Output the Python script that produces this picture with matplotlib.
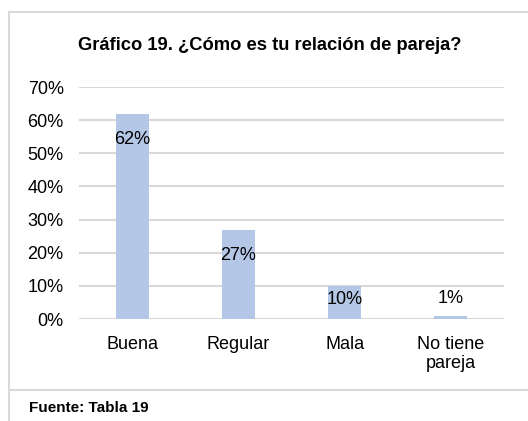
import matplotlib
matplotlib.use("Agg")
import matplotlib.pyplot as plt
from matplotlib.lines import Line2D
from matplotlib.ticker import PercentFormatter

plt.rcParams['font.family'] = ['Liberation Sans', 'DejaVu Sans']

categories = ["Buena", "Regular", "Mala", "No tiene\npareja"]
values = [0.62, 0.27, 0.10, 0.01]
labels = ["62%", "27%", "10%", "1%"]
label_offsets_px = [-26, -26, -13.5, 17]

title = "Gráfico 19. ¿Cómo es tu relación de pareja?"
source = "Fuente: Tabla 19"

W, H = 528, 421
fig = plt.figure(figsize=(W / 100, H / 100), dpi=100)

ax = fig.add_axes([79 / W, (H - 319) / H, (504 - 79) / W, (319 - 87) / H])
x = range(len(categories))
ax.bar(x, values, width=0.31, color="#b4c7e7", zorder=3)
ax.set_xlim(-0.5, len(categories) - 0.5)
ax.set_ylim(0, 0.7)
ax.set_yticks([i / 10 for i in range(8)])
ax.yaxis.set_major_formatter(PercentFormatter(1.0, decimals=0))
ax.set_xticks(list(x))
ax.set_xticklabels(categories, fontsize=13, linespacing=1.15)
ax.tick_params(axis='y', labelsize=13, length=0, pad=11)
ax.tick_params(axis='x', length=0, pad=12.5)
ax.grid(axis='y', color="#d9d9d9", linewidth=1.5, zorder=0)
for s in ax.spines.values():
    s.set_visible(False)
for xi, v, lab, off in zip(x, values, labels, label_offsets_px):
    ax.annotate(lab, (xi, v), xytext=(0, off), textcoords='offset pixels',
                ha='center', va='center', fontsize=13, color="#000000", zorder=4)

# title and source
fig.text(270 / W, 1 - 45 / H, title, ha='center', va='center',
         fontsize=13.2, fontweight='bold')
fig.text(29 / W, 1 - 408 / H, source, ha='left', va='center',
         fontsize=11, fontweight='bold')

# frame lines
c = "#d9d9d9"
fig.add_artist(Line2D([8.5 / W, 1], [1 - 12 / H, 1 - 12 / H], color=c, lw=1.5))
fig.add_artist(Line2D([8.5 / W, 8.5 / W], [0, 1 - 12 / H], color=c, lw=1.5))
fig.add_artist(Line2D([8.5 / W, 1], [1 - 390 / H, 1 - 390 / H], color=c, lw=1.5))

fig.savefig("out.png", dpi=100)
